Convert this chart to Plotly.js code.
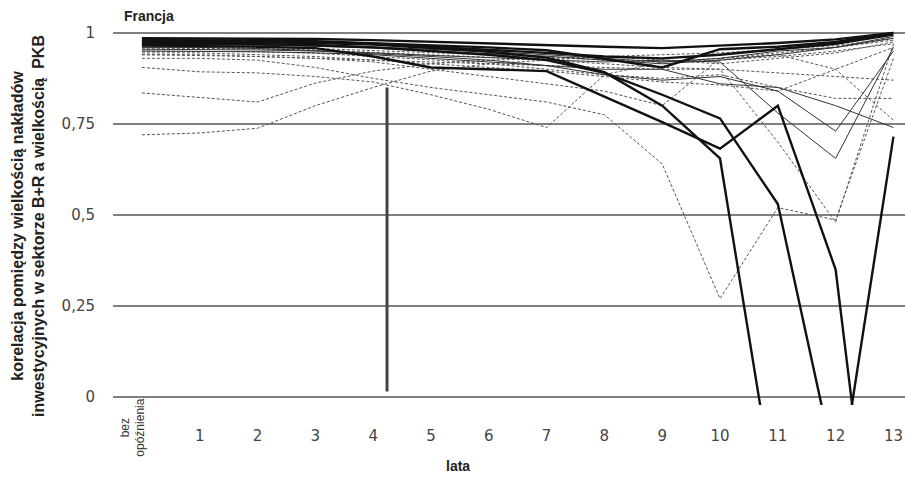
<!DOCTYPE html>
<html>
<head>
<meta charset="utf-8">
<script src="https://cdn.plot.ly/plotly-3.0.1.min.js"></script>
<style>html,body{margin:0;padding:0;background:#fff;}#chart{width:905px;height:486px;}</style>
</head>
<body>
<div id="chart"></div>
<script>
// lags (0 = bez opóźnienia)
const lags = [0,1,2,3,4,5,6,7,8,9,10,11,12,13];
const xTickText = ['', '1','2','3','4','5','6','7','8','9','10','11','12','13'];
const firstLagLabel = 'bez<br>opóźnienia';
const yTickVals = [0, 0.25, 0.5, 0.75, 1];
const yTickText = ['0', '0,25', '0,5', '0,75', '1'];

// thick solid series
const t1 = [0.975,0.975,0.974,0.972,0.968,0.958,0.948,0.932,0.892,0.80,0.655,-0.32,-0.31,0.715];
const t2 = [0.970,0.970,0.969,0.966,0.960,0.950,0.940,0.925,0.890,0.83,0.765,0.53,-0.20,-0.30];
const t3 = [0.965,0.964,0.962,0.958,0.935,0.905,0.900,0.895,0.825,0.755,0.682,0.80,0.35,-0.95];
const t4 = [0.980,0.980,0.979,0.977,0.972,0.966,0.960,0.952,0.928,0.905,0.955,0.962,0.975,1.0];
const t5 = [0.985,0.985,0.984,0.983,0.980,0.976,0.972,0.968,0.962,0.958,0.965,0.972,0.982,1.0];
const t6 = [0.978,0.977,0.976,0.975,0.970,0.962,0.955,0.945,0.935,0.930,0.940,0.955,0.970,0.995];

// thin solid series
const a1 = [0.960,0.960,0.957,0.952,0.945,0.938,0.932,0.925,0.920,0.925,0.920,0.78,0.655,0.96];
const a2 = [0.955,0.955,0.953,0.950,0.943,0.935,0.925,0.910,0.885,0.870,0.880,0.84,0.73,0.95];
const a3 = [0.950,0.950,0.948,0.945,0.940,0.930,0.920,0.910,0.900,0.900,0.860,0.85,0.80,0.74];
const a4 = [0.972,0.972,0.970,0.968,0.962,0.955,0.948,0.940,0.930,0.920,0.930,0.95,0.96,0.985];
const a5 = [0.968,0.968,0.966,0.963,0.958,0.950,0.944,0.936,0.925,0.915,0.925,0.94,0.96,0.99];

// thin dashed series
const d1 = [0.72,0.725,0.738,0.80,0.85,0.895,0.915,0.925,0.935,0.94,0.945,0.955,0.965,0.985];
const d2 = [0.835,0.822,0.81,0.862,0.895,0.915,0.925,0.93,0.935,0.925,0.915,0.93,0.945,0.975];
const d3 = [0.905,0.893,0.89,0.88,0.865,0.83,0.79,0.74,0.885,0.92,0.925,0.935,0.95,0.97];
const d4 = [0.93,0.93,0.925,0.905,0.875,0.85,0.83,0.81,0.775,0.64,0.27,0.52,0.486,0.93];
const d5 = [0.94,0.94,0.935,0.93,0.92,0.90,0.88,0.86,0.84,0.80,0.93,0.945,0.96,0.98];
const d6 = [0.945,0.945,0.94,0.935,0.925,0.915,0.905,0.895,0.88,0.865,0.857,0.84,0.90,0.96];
const d7 = [0.95,0.95,0.948,0.944,0.936,0.926,0.915,0.90,0.885,0.875,0.885,0.85,0.82,0.82];
const d8 = [0.958,0.958,0.956,0.953,0.947,0.94,0.933,0.925,0.915,0.905,0.90,0.89,0.88,0.87];
const d9 = [0.962,0.962,0.96,0.957,0.952,0.946,0.94,0.933,0.925,0.92,0.93,0.94,0.90,0.76];
const d10 = [0.94,0.938,0.935,0.93,0.925,0.92,0.915,0.91,0.905,0.90,0.90,0.70,0.48,0.97];

// vertical marker
const markerX = [4.24, 4.24];
const markerY = [0.015, 0.85];

const thick = [t1,t2,t3,t4,t5,t6];
const thinSolid = [a1,a2,a3,a4,a5];
const dashed = [d1,d2,d3,d4,d5,d6,d7,d8,d9,d10];

const traces = [];
dashed.forEach(s => traces.push({x: lags, y: s, mode:'lines', line:{color:'#555', width:1, dash:'3px,2px'}, hoverinfo:'skip'}));
thinSolid.forEach(s => traces.push({x: lags, y: s, mode:'lines', line:{color:'#333', width:1}, hoverinfo:'skip'}));
thick.forEach(s => traces.push({x: lags, y: s, mode:'lines', line:{color:'#111', width:2.4}, hoverinfo:'skip'}));
traces.push({x: markerX, y: markerY, mode:'lines', line:{color:'#444', width:3}, hoverinfo:'skip'});

const font = 'Liberation Sans, Arial, sans-serif';
const wide = 'DejaVu Sans, Verdana, sans-serif';
const layout = {
  width: 905, height: 486,
  paper_bgcolor:'#fff', plot_bgcolor:'#fff',
  margin:{l:113, r:0, t:15, b:81},
  showlegend:false,
  font:{family:wide, color:'#333'},
  xaxis:{range:[-0.5,13.2], tickvals:lags, ticktext:xTickText, showgrid:false, zeroline:false,
         showline:false, ticks:'', tickfont:{size:15, color:'#444', family:wide}, ticklabelstandoff:20},
  yaxis:{range:[-0.022,1.049], tickvals:yTickVals, ticktext:yTickText, showgrid:true,
         gridcolor:'#808080', gridwidth:1.5, zeroline:false, showline:false, ticks:'',
         tickfont:{size:15, color:'#444', family:wide}, ticklabelstandoff:17},
  annotations:[
    {text:'<b>Francja</b>', xref:'paper', yref:'paper', x:(122-113)/792, y:(405-16)/390, xanchor:'left', yanchor:'middle',
     showarrow:false, font:{size:14, color:'#222', family:font}},
    {text:'<b>korelacja pomiędzy wielkością nakładów<br>inwestycyjnych w sektorze B+R a wielkością  PKB</b>',
     xref:'paper', yref:'paper', x:(28-113)/792, y:(405-226)/390, xanchor:'center', yanchor:'middle',
     textangle:-90, showarrow:false, font:{size:16, color:'#222', family:font}},
    {text:'<b>lata</b>', xref:'paper', yref:'paper', x:(458-113)/792, y:(405-466)/390, xanchor:'center', yanchor:'middle',
     showarrow:false, font:{size:14, color:'#222', family:font}},
    {text:firstLagLabel, xref:'x', yref:'paper', x:lags[0]-0.16, y:(405-428)/390, xanchor:'center', yanchor:'middle',
     textangle:-90, showarrow:false, font:{size:12, color:'#333', family:font}}
  ]
};
Plotly.newPlot('chart', traces, layout, {staticPlot:true, displayModeBar:false});
</script>
</body>
</html>
